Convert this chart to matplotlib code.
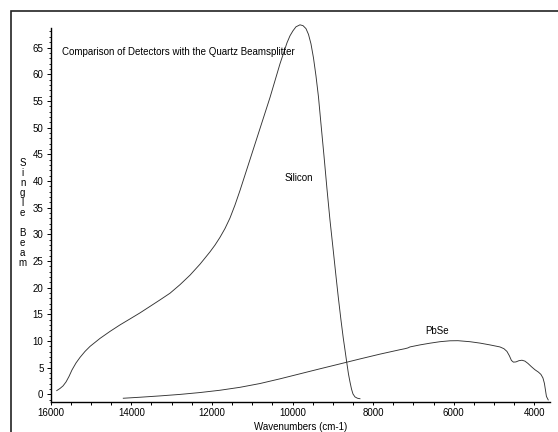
import matplotlib
matplotlib.use("Agg")
import matplotlib.pyplot as plt
from matplotlib.patches import Rectangle
from matplotlib.ticker import MultipleLocator

plt.rcParams["font.family"] = ["Liberation Sans", "DejaVu Sans"]

# Silicon detector single beam (wavenumber, intensity)
silicon_x = [15851, 15769, 15695, 15620, 15546, 15472, 15372, 15273, 15149,
             15025, 14777, 14529, 14281, 14033, 13785, 13536, 13288, 13040,
             12792, 12544, 12296, 12172, 12048, 11924, 11800, 11676, 11552,
             11428, 11304, 11055, 10807, 10559, 10311, 10212, 10137, 10063,
             9989, 9914, 9815, 9740, 9666, 9604, 9542, 9480, 9418, 9356,
             9294, 9219, 9145, 9071, 8996, 8922, 8865, 8798, 8741, 8698,
             8656, 8612, 8574, 8537, 8500, 8450, 8388, 8326]
silicon_y = [0.68, 1.09, 1.56, 2.31, 3.34, 4.56, 5.87, 6.91, 8.03,
             8.97, 10.47, 11.78, 13.0, 14.12, 15.25, 16.47, 17.69, 18.94,
             20.54, 22.32, 24.38, 25.53, 26.69, 27.96, 29.41, 31.06, 33.03,
             35.46, 38.18, 44.0, 49.81, 55.62, 61.94, 64.19, 65.88, 67.19,
             68.13, 68.88, 69.25, 69.10, 68.54, 67.47, 65.69, 63.06, 59.69, 55.75,
             50.69, 44.69, 38.50, 32.69, 27.44, 22.19, 18.25, 13.94, 10.56, 8.31,
             6.06, 3.81, 2.31, 1.0, 0.06, -0.50, -0.75, -0.84]

# PbSe detector single beam
pbse_x = [14199, 13785, 13288, 12792, 12296, 11800, 11304, 10807, 10311,
          9815, 9319, 8823, 8326, 7830, 7334, 7210, 7135, 7086, 6838,
          6590, 6342, 6093, 5895, 5597, 5349, 5101, 4853, 4754, 4679,
          4617, 4568, 4518, 4456, 4382, 4307, 4233, 4158, 4071, 3985,
          3898, 3836, 3786, 3749, 3724, 3699, 3655]
pbse_y = [-0.75, -0.56, -0.31, -0.03, 0.32, 0.75, 1.30, 2.01, 2.89,
          3.83, 4.77, 5.69, 6.62, 7.52, 8.35, 8.54, 8.69, 8.87, 9.25,
          9.57, 9.85, 10.02, 10.04, 9.85, 9.59, 9.25, 8.87, 8.54, 8.03,
          7.19, 6.34, 6.02, 6.06, 6.29, 6.38, 6.21, 5.78, 5.16, 4.60,
          4.15, 3.72, 3.06, 2.03, 0.81, -0.41, -1.06]

fig = plt.figure(figsize=(5.58, 4.32), dpi=100)
ax = fig.add_axes([0.0909, 0.0701, 0.8948, 0.8644])

line_kw = dict(color="#333333", linewidth=0.65, clip_on=False,
               solid_joinstyle="round")
ax.plot(silicon_x, silicon_y, **line_kw)
ax.plot(pbse_x, pbse_y, **line_kw)

ax.set_xlim(16000, 3610)
ax.set_ylim(-1.4, 68.6)

ax.xaxis.set_major_locator(MultipleLocator(2000))
ax.xaxis.set_minor_locator(MultipleLocator(500))
ax.yaxis.set_major_locator(MultipleLocator(5))
ax.yaxis.set_minor_locator(MultipleLocator(1))

for side in ["top", "right"]:
    ax.spines[side].set_visible(False)
for side in ["left", "bottom"]:
    ax.spines[side].set_linewidth(1.0)

ax.tick_params(axis="x", which="both", length=2.2, width=0.7,
               labelsize=7, pad=2.5)
ax.tick_params(axis="y", which="major", length=3.2, width=0.7,
               labelsize=7, pad=2)
ax.tick_params(axis="y", which="minor", length=1.8, width=0.6)

ax.set_xlabel("Wavenumbers (cm-1)", fontsize=7, labelpad=3)

ax.text(15720, 64.2, "Comparison of Detectors with the Quartz Beamsplitter",
        fontsize=7, ha="left", va="center")
ax.text(9835, 40.6, "Silicon", fontsize=7, ha="center", va="center")
ax.text(6414, 11.9, "PbSe", fontsize=7, ha="center", va="center")

# stacked y label, one letter per line
fig.text(0.0407, 0.507, "S\ni\nn\ng\nl\ne\n\nB\ne\na\nm", fontsize=7,
         ha="center", va="center", linespacing=1.0)

# outer frame (only left and top edges fall inside the image)
fig.add_artist(Rectangle((11 / 558, -0.1), 1.2, 1.1 - 11 / 432,
                         transform=fig.transFigure, fill=False,
                         edgecolor="#222222", linewidth=1.2))

plt.savefig("out.png", dpi=100)
